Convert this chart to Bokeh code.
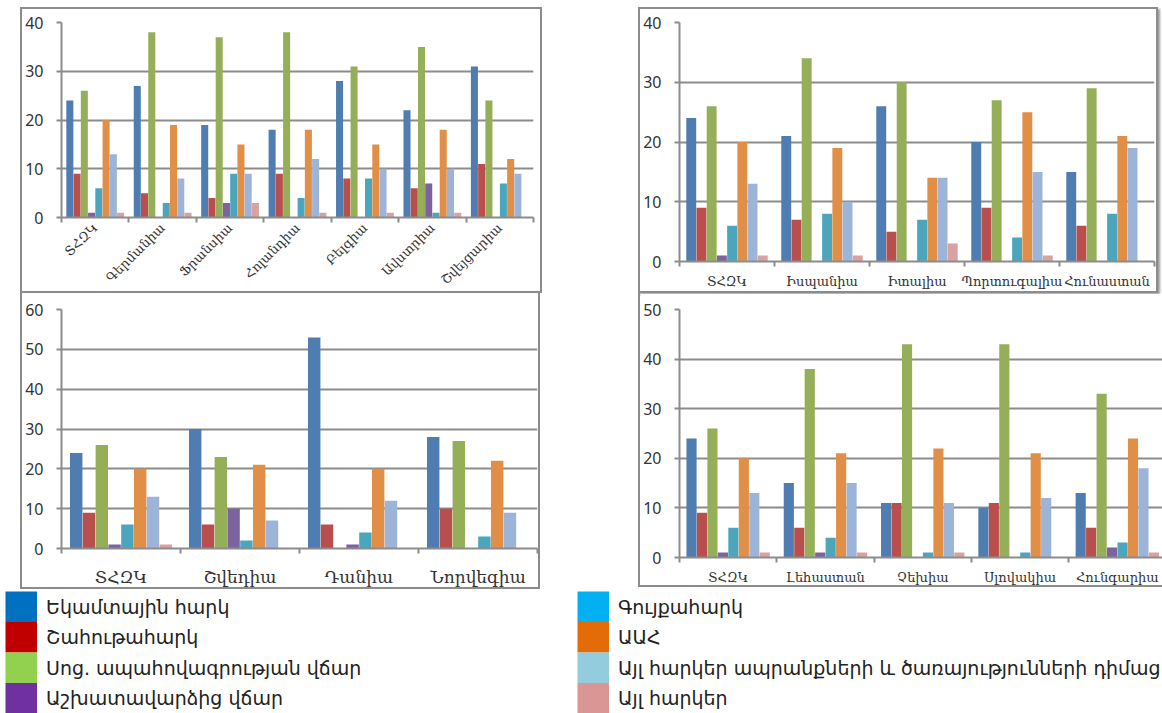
import numpy as np
from math import pi
from bokeh.plotting import figure
from bokeh.core.properties import value
from bokeh.models import Range1d, FixedTicker, ColumnDataSource, Spacer
from bokeh.layouts import row, column
from bokeh.embed import file_html
from bokeh.resources import INLINE

# Tax structure: share of each tax type, per country group (percent)
series_names = [
    "Եկամտային հարկ",
    "Շահութահարկ",
    "Սոց. ապահովագրության վճար",
    "Աշխատավարձից վճար",
    "Գույքահարկ",
    "ԱԱՀ",
    "Այլ հարկեր ապրանքների և ծառայությունների դիմաց",
    "Այլ հարկեր",
]
bar_colors = ["#4f7db1", "#b94f4c", "#95af58", "#7d62a0", "#4ba6bd", "#e18e46", "#9db4d9", "#d9a2a1"]
legend_colors = ["#0070c0", "#c00000", "#92d050", "#7030a0", "#00b0f0", "#e36c09", "#93cddd", "#d99694"]

# Western Europe
west_cats = ["ՏՀԶԿ", "Գերմանիա", "Ֆրանսիա", "Հոլանդիա", "Բելգիա", "Ավստրիա", "Շվեյցարիա"]
west_income = [24, 27, 19, 18, 28, 22, 31]
west_profit = [9, 5, 4, 9, 8, 6, 11]
west_social = [26, 38, 37, 38, 31, 35, 24]
west_payroll = [1, 0, 3, 0, 0, 7, 0]
west_property = [6, 3, 9, 4, 8, 1, 7]
west_vat = [20, 19, 15, 18, 15, 18, 12]
west_goods = [13, 8, 9, 12, 10, 10, 9]
west_other = [1, 1, 3, 1, 1, 1, 0]

# Southern Europe
south_cats = ["ՏՀԶԿ", "Իսպանիա", "Իտալիա", "Պորտուգալիա", "Հունաստան"]
south_income = [24, 21, 26, 20, 15]
south_profit = [9, 7, 5, 9, 6]
south_social = [26, 34, 30, 27, 29]
south_payroll = [1, 0, 0, 0, 0]
south_property = [6, 8, 7, 4, 8]
south_vat = [20, 19, 14, 25, 21]
south_goods = [13, 10, 14, 15, 19]
south_other = [1, 1, 3, 1, 0]

# Scandinavia
north_cats = ["ՏՀԶԿ", "Շվեդիա", "Դանիա", "Նորվեգիա"]
north_income = [24, 30, 53, 28]
north_profit = [9, 6, 6, 10]
north_social = [26, 23, 0, 27]
north_payroll = [1, 10, 1, 0]
north_property = [6, 2, 4, 3]
north_vat = [20, 21, 20, 22]
north_goods = [13, 7, 12, 9]
north_other = [1, 0, 0, 0]

# Central Europe
east_cats = ["ՏՀԶԿ", "Լեհաստան", "Չեխիա", "Սլովակիա", "Հունգարիա"]
east_income = [24, 15, 11, 10, 13]
east_profit = [9, 6, 11, 11, 6]
east_social = [26, 38, 43, 43, 33]
east_payroll = [1, 1, 0, 0, 2]
east_property = [6, 4, 1, 1, 3]
east_vat = [20, 21, 22, 21, 24]
east_goods = [13, 15, 11, 12, 18]
east_other = [1, 1, 1, 0, 1]

GRID = "#8c8c8c"
TEXT = "#333333"
CAT_FONT = "DejaVu Serif"
NUM_FONT = "Noto Sans"


def panel(cats, series, ymax, width, height, frame, x_end=None, label_size="13px",
          label_angle=0.0, label_standoff=6, borders=None):
    n = len(cats)
    left, right, top, bottom = frame
    p = figure(width=width, height=height, output_backend="svg", toolbar_location=None,
               x_range=Range1d(0, x_end if x_end is not None else n), y_range=Range1d(0, ymax),
               min_border_left=left, min_border_right=right, min_border_top=top,
               min_border_bottom=bottom, background_fill_color="white",
               border_fill_color="white", outline_line_color=None)
    bw = 1.0 / (len(series) + 1.3)
    base = np.arange(n) + 0.5
    for k, (vals, color) in enumerate(zip(series, bar_colors)):
        src = ColumnDataSource(dict(x=base + (k - (len(series) - 1) / 2) * bw, top=vals))
        p.vbar(x="x", top="top", width=bw * 0.97, bottom=0, source=src,
               fill_color=color, line_color=None)

    p.xgrid.visible = False
    p.ygrid.grid_line_color = GRID
    p.ygrid.grid_line_width = 2
    p.ygrid.ticker = FixedTicker(ticks=list(range(0, ymax + 1, 10)))

    yax = p.yaxis[0]
    yax.ticker = FixedTicker(ticks=list(range(0, ymax + 1, 10)))
    yax.axis_line_color = GRID
    yax.axis_line_width = 2
    yax.major_tick_line_color = GRID
    yax.major_tick_line_width = 2
    yax.major_tick_in = 0
    yax.major_tick_out = 5
    yax.minor_tick_line_color = None
    yax.major_label_text_font = NUM_FONT
    yax.major_label_text_font_size = "16px"
    yax.major_label_text_color = TEXT
    yax.major_label_standoff = 13

    xax = p.xaxis[0]
    centers = [i + 0.5 for i in range(n)]
    xax.ticker = FixedTicker(ticks=centers, minor_ticks=list(range(0, n + 1)))
    xax.major_label_overrides = {c: name for c, name in zip(centers, cats)}
    xax.axis_line_color = GRID
    xax.axis_line_width = 2
    xax.major_tick_line_color = None
    xax.minor_tick_line_color = GRID
    xax.minor_tick_line_width = 2
    xax.minor_tick_in = 0
    xax.minor_tick_out = 5
    xax.major_label_text_font = CAT_FONT
    xax.major_label_text_font_size = label_size
    xax.major_label_text_color = TEXT
    xax.major_label_standoff = label_standoff
    if label_angle:
        xax.major_label_orientation = label_angle

    p.styles = borders or {"border": f"2px solid {GRID}"}
    return p


side = f"2px solid {GRID}"

p1 = panel(west_cats, [west_income, west_profit, west_social, west_payroll, west_property,
                       west_vat, west_goods, west_other],
           40, 522, 286, (39, 11, 13, 78), label_size="13px", label_angle=pi / 4,
           label_standoff=2)
p2 = panel(south_cats, [south_income, south_profit, south_social, south_payroll,
                        south_property, south_vat, south_goods, south_other],
           40, 520, 286, (37, 6, 13, 34), label_size="13px", label_standoff=6,
           borders={"border": side, "box-shadow": "2px 2px 2px #9a9a9a"})
p3 = panel(north_cats, [north_income, north_profit, north_social, north_payroll,
                        north_property, north_vat, north_goods, north_other],
           60, 520, 296, (39, 5, 16, 41), label_size="17px", label_standoff=12,
           borders={"border-left": side, "border-right": side, "border-bottom": side})
p4 = panel(east_cats, [east_income, east_profit, east_social, east_payroll,
                       east_property, east_vat, east_goods, east_other],
           50, 524, 294, (38, 0, 16, 30), x_end=4.985, label_size="13px", label_standoff=6,
           borders={"border-left": side, "border-bottom": side})

# Legend strip below the charts: two columns of four colour swatches
lf = figure(width=1162, height=124, output_backend="svg", toolbar_location=None,
            x_range=Range1d(0, 1162), y_range=Range1d(4.0, -0.065),
            x_axis_type=None, y_axis_type=None, min_border=0, outline_line_color=None,
            background_fill_color="white", border_fill_color="white")
lf.grid.visible = False
legend_col_x = [5, 577]
swatch_w = 31.5
idx = np.arange(len(series_names))
col = idx // 4
rw = idx % 4
lsrc = ColumnDataSource(dict(
    left=[legend_col_x[c] for c in col],
    right=[legend_col_x[c] + swatch_w for c in col],
    top=rw.astype(float), bottom=rw + 1.0,
    tx=[legend_col_x[c] + swatch_w + 9 for c in col], ty=rw + 0.5,
    name=series_names, color=legend_colors,
))
lf.quad(left="left", right="right", top="top", bottom="bottom", fill_color="color",
        line_color=None, source=lsrc)
lf.text(x="tx", y="ty", text="name", source=lsrc, text_font=value("DejaVu Sans"),
        text_font_size="19px", text_color="#222222", text_baseline="middle",
        text_align="left")

layout = column(
    Spacer(height=7),
    row(Spacer(width=20), column(p1), Spacer(width=96), column(p2)),
    row(Spacer(width=20), column(p3), Spacer(width=98), column(p4)),
    lf,
)

open("out.html", "w").write(file_html(layout, INLINE))
